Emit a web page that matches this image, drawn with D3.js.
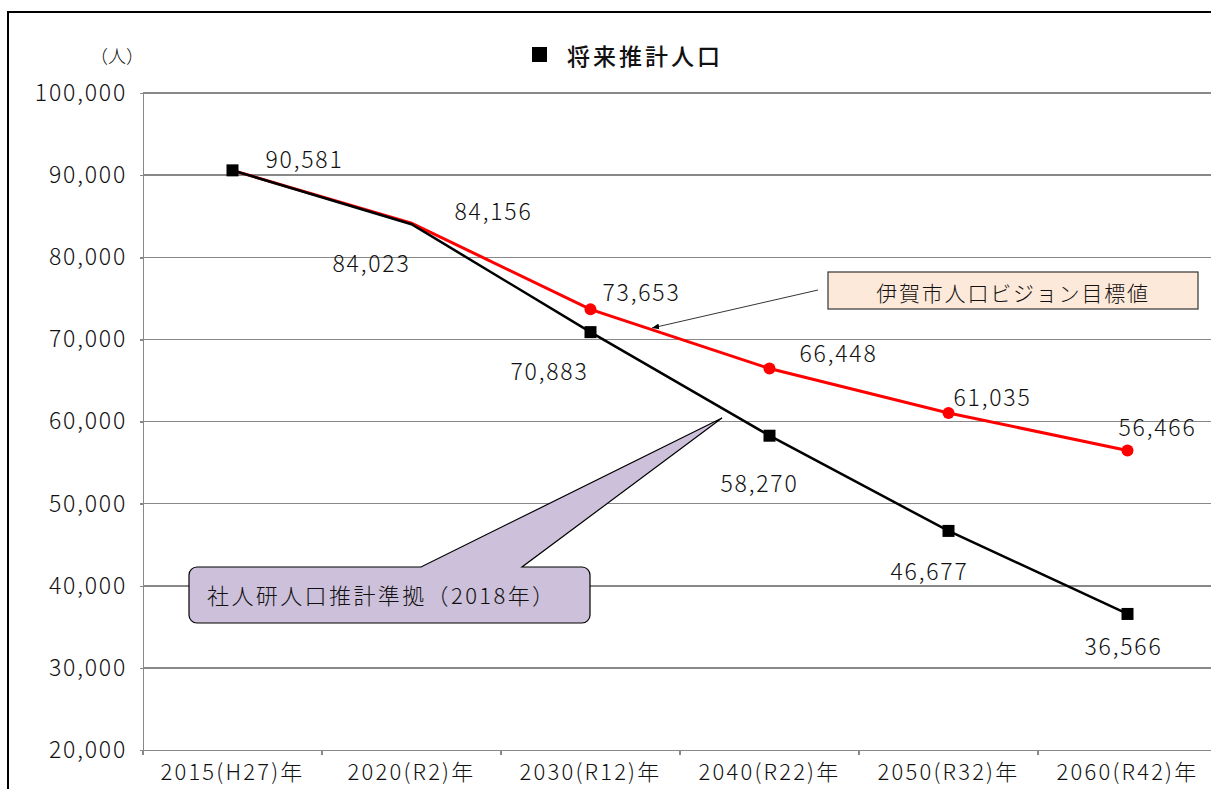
<!DOCTYPE html>
<html>
<head>
<meta charset="utf-8">
<title>将来推計人口</title>
<script src="https://cdn.jsdelivr.net/npm/d3@7"></script>
<style>
body{ margin:0; background:#fff; }
svg text{ font-family:"Noto Sans CJK JP","Noto Sans",sans-serif; fill:#111; font-weight:300; }
.axis path, .axis line{ stroke:#888; stroke-width:1.5; shape-rendering:crispEdges; }
.grid line{ stroke:#888; stroke-width:1.5; shape-rendering:crispEdges; }
</style>
</head>
<body>
<script>
// data
const categories = ["2015(H27)年","2020(R2)年","2030(R12)年","2040(R22)年","2050(R32)年","2060(R42)年"];
const estimate = [90581, 84023, 70883, 58270, 46677, 36566];   // 社人研推計準拠
const target   = [90581, 84156, 73653, 66448, 61035, 56466];   // 人口ビジョン目標値
const yTicks = [20000, 30000, 40000, 50000, 60000, 70000, 80000, 90000, 100000];
// which points show a marker
const estimateMarkers = [true, false, true, true, true, true];
const targetMarkers   = [false, false, true, true, true, true];

// label placement (dx, dy from the point)
const estLabelOff = [[72,-12],[-40,38],[-41,38],[-10,46],[-19,39],[-4,31]];
const tgtLabelOff = [null,[82,-13],[51,-18],[69,-17],[44,-17],[30,-25]];

const width = 1211, height = 789;
const margin = {top: 93, left: 143};
const plotW = 179 * 6, plotH = 657;

const svg = d3.select("body").append("svg").attr("width", width).attr("height", height);

// outer frame
svg.append("rect").attr("x", 8).attr("y", 12).attr("width", 1230).attr("height", 800)
  .attr("fill", "none").attr("stroke", "#000").attr("stroke-width", 2);

const x = d3.scaleBand().domain(categories).range([margin.left, margin.left + plotW]);
const y = d3.scaleLinear().domain([20000, 100000]).range([margin.top + plotH, margin.top]);

// grid
svg.append("g").attr("class", "grid").selectAll("line").data(yTicks.slice(1)).enter().append("line")
  .attr("x1", margin.left).attr("x2", margin.left + plotW)
  .attr("y1", d => y(d)).attr("y2", d => y(d));

// y axis
const fmt = d3.format(",");
const yAxisG = svg.append("g").attr("class", "axis").attr("transform", `translate(${margin.left},0)`)
  .call(d3.axisLeft(y).tickValues(yTicks).tickFormat(fmt).tickSize(3).tickSizeOuter(0));
yAxisG.selectAll("text").attr("x", -16).style("font-size", "23px").style("letter-spacing", "1.8px").attr("fill", "#111");

// x axis
const xAxisG = svg.append("g").attr("class", "axis").attr("transform", `translate(0,${margin.top + plotH})`)
  .call(d3.axisBottom(x).tickSize(0).tickSizeOuter(0));
xAxisG.selectAll("text").attr("y", 14).style("font-size", "22px").style("letter-spacing", "2.2px").attr("fill", "#111");
// tick marks between categories
xAxisG.selectAll(".sep").data(categories).enter().append("line").attr("class", "sep")
  .attr("x1", d => x(d)).attr("x2", d => x(d)).attr("y1", 0).attr("y2", 5)
  .attr("stroke", "#888").attr("stroke-width", 1.5);

const cx = (d, i) => x(categories[i]) + x.bandwidth() / 2;
const line = d3.line().x((d, i) => cx(d, i)).y(d => y(d));

// red target line
svg.append("path").datum(target).attr("d", line)
  .attr("fill", "none").attr("stroke", "#ff0000").attr("stroke-width", 3);
// black estimate line
svg.append("path").datum(estimate).attr("d", line)
  .attr("fill", "none").attr("stroke", "#000").attr("stroke-width", 2.5);

svg.append("g").selectAll("circle").data(target).enter()
  .filter((d, i) => targetMarkers[i])
  .append("circle")
  .attr("cx", d => cx(d, target.indexOf(d))).attr("cy", d => y(d)).attr("r", 6)
  .attr("fill", "#ff0000");

svg.append("g").selectAll("rect").data(estimate).enter()
  .filter((d, i) => estimateMarkers[i])
  .append("rect")
  .attr("x", d => cx(d, estimate.indexOf(d)) - 6).attr("y", d => y(d) - 6)
  .attr("width", 12).attr("height", 12).attr("fill", "#000");

// value labels
function labels(data, offs) {
  svg.append("g").selectAll("text").data(data).enter()
    .filter((d, i) => offs[i])
    .append("text")
    .attr("x", d => cx(d, data.indexOf(d)) + offs[data.indexOf(d)][0])
    .attr("y", d => y(d) + offs[data.indexOf(d)][1])
    .attr("text-anchor", "middle").attr("dominant-baseline", "central")
    .style("font-size", "23px").style("letter-spacing", "1.8px")
    .text(d => fmt(d));
}
labels(estimate, estLabelOff);
labels(target, tgtLabelOff);

// title and unit
svg.append("rect").attr("x", 532).attr("y", 47).attr("width", 15).attr("height", 15).attr("fill", "#000");
svg.append("text").attr("x", 567).attr("y", 55).attr("dominant-baseline", "central")
  .style("font-size", "23px").style("font-weight", "500").style("letter-spacing", "3px").text("将来推計人口");
svg.append("text").attr("x", 117).attr("y", 55).attr("text-anchor", "middle").attr("dominant-baseline", "central")
  .style("font-size", "18px").text("（人）");

// target callout box with arrow
svg.append("defs").append("marker").attr("id", "arrow").attr("viewBox", "0 0 10 10")
  .attr("refX", 10).attr("refY", 5).attr("markerWidth", 9).attr("markerHeight", 9).attr("orient", "auto")
  .append("path").attr("d", "M0,1 L10,5 L0,9 Z").attr("fill", "#000");
svg.append("line").attr("x1", 818).attr("y1", 290).attr("x2", 652).attr("y2", 328)
  .attr("stroke", "#000").attr("stroke-width", 0.8).attr("marker-end", "url(#arrow)");
svg.append("rect").attr("x", 828).attr("y", 272).attr("width", 370).attr("height", 37)
  .attr("fill", "#fde9d9").attr("stroke", "#333").attr("stroke-width", 1.2);
svg.append("text").attr("x", 1013).attr("y", 292).attr("text-anchor", "middle").attr("dominant-baseline", "central")
  .style("font-size", "21px").style("letter-spacing", "1.8px").text("伊賀市人口ビジョン目標値");

// estimate speech-bubble callout
const bx = 189, by = 567, bw = 401, bh = 56, r = 8;
const p = d3.path();
p.moveTo(bx + r, by);
p.lineTo(421, by);
p.lineTo(722, 418);
p.lineTo(522, by);
p.lineTo(bx + bw - r, by);
p.arcTo(bx + bw, by, bx + bw, by + r, r);
p.lineTo(bx + bw, by + bh - r);
p.arcTo(bx + bw, by + bh, bx + bw - r, by + bh, r);
p.lineTo(bx + r, by + bh);
p.arcTo(bx, by + bh, bx, by + bh - r, r);
p.lineTo(bx, by + r);
p.arcTo(bx, by, bx + r, by, r);
p.closePath();
svg.append("path").attr("d", p.toString()).attr("fill", "#ccc0da").attr("stroke", "#000").attr("stroke-width", 1.2);
svg.append("text").attr("x", 207).attr("y", 594).attr("dominant-baseline", "central")
  .style("font-size", "22px").style("letter-spacing", "2.4px").text("社人研人口推計準拠（2018年）");
</script>
</body>
</html>
